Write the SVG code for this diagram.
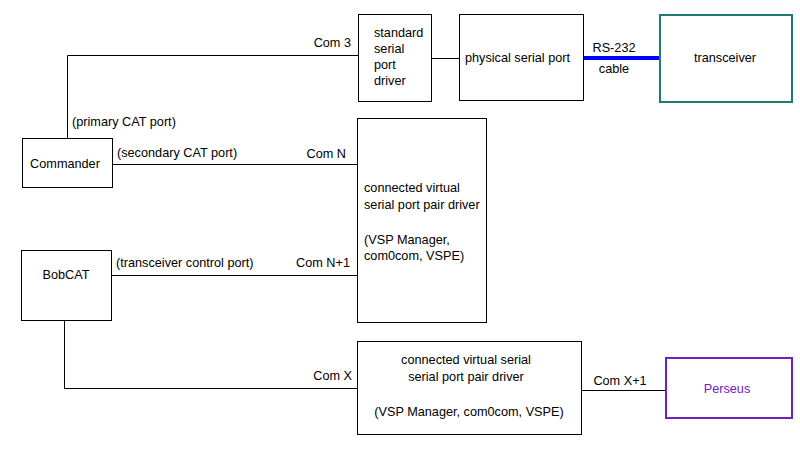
<svg xmlns="http://www.w3.org/2000/svg" width="800" height="464" viewBox="0 0 800 464">
<style>
text{font-family:"Liberation Sans",Arial,sans-serif;font-size:12.7px;fill:#000}
.box{fill:#fff;stroke:#000;stroke-width:1}
.ln{fill:none;stroke:#000;stroke-width:1}
.mid{text-anchor:middle}
.end{text-anchor:end}
</style>
<rect width="800" height="464" fill="#fff"/>
<g id="connectors">
<path class="ln" d="M67.5,138 V55.5 H358"/>
<path class="ln" d="M112,164.5 H357"/>
<path class="ln" d="M111,275.5 H357"/>
<path class="ln" d="M64.5,320 V388.5 H357"/>
<path class="ln" d="M431,58.5 H459"/>
<path class="ln" d="M581,390.5 H666"/>
<path d="M583,58 H660" stroke="#0000ff" stroke-width="4" fill="none"/>
<text class="end" x="351" y="47">Com 3</text>
<text x="72" y="126">(primary CAT port)</text>
<text x="117" y="157">(secondary CAT port)</text>
<text class="end" x="346" y="158">Com N</text>
<text x="116" y="267">(transceiver control port)</text>
<text class="end" x="350" y="267">Com N+1</text>
<text class="end" x="352" y="380">Com X</text>
<text class="mid" x="620" y="385">Com X+1</text>
<text class="mid" x="614" y="52">RS-232</text>
<text class="mid" x="614" y="73">cable</text>
</g>
<g id="commander">
<rect class="box" x="22.5" y="138.5" width="90" height="49"/>
<text class="mid" x="65" y="168">Commander</text>
</g>
<g id="bobcat">
<rect class="box" x="21.5" y="250.5" width="90" height="70"/>
<text class="mid" x="66" y="279">BobCAT</text>
</g>
<g id="std-driver">
<rect class="box" x="358.5" y="14.5" width="73" height="87"/>
<text x="374" y="37">standard</text>
<text x="374" y="53">serial</text>
<text x="374" y="69">port</text>
<text x="374" y="85">driver</text>
</g>
<g id="physical-port">
<rect class="box" x="459.5" y="14.5" width="124" height="86"/>
<text x="465" y="62">physical serial port</text>
</g>
<g id="transceiver">
<rect x="660" y="15" width="132" height="87" fill="#fff" stroke="#1f7a70" stroke-width="2"/>
<text class="mid" x="725" y="62">transceiver</text>
</g>
<g id="vsp1">
<rect class="box" x="357.5" y="118.5" width="129" height="204"/>
<text x="364" y="192">connected virtual</text>
<text x="364" y="209">serial port pair driver</text>
<text x="364" y="244">(VSP Manager,</text>
<text x="364" y="260">com0com, VSPE)</text>
</g>
<g id="vsp2">
<rect class="box" x="357.5" y="341.5" width="224" height="93"/>
<text class="mid" x="466" y="364">connected virtual serial</text>
<text class="mid" x="466" y="381">serial port pair driver</text>
<text class="mid" x="469" y="416">(VSP Manager, com0com, VSPE)</text>
</g>
<g id="perseus">
<rect x="666" y="358" width="126" height="60" fill="#fff" stroke="#7020c0" stroke-width="2"/>
<text class="mid" x="727" y="393" style="fill:#7020c0">Perseus</text>
</g>
</svg>
